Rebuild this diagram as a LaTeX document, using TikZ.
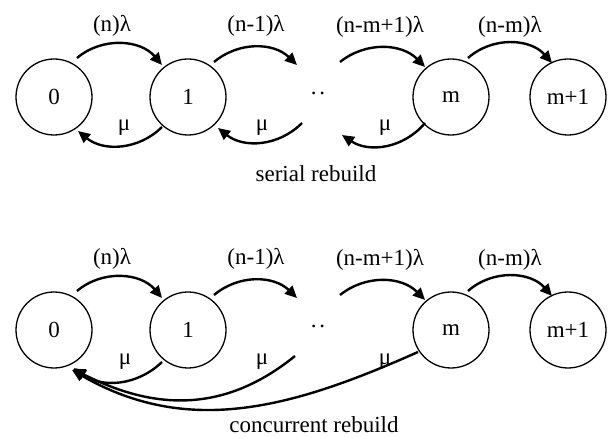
\documentclass[tikz,border=0pt]{standalone}
\usepackage{fontspec}
\setmainfont{Liberation Serif}
\usetikzlibrary{arrows.meta,calc}
\begin{document}
\begin{tikzpicture}[x=1pt,y=1pt,
  st/.style={circle,draw,line width=1.3pt,minimum size=76pt,inner sep=0pt},
  arr/.style={line width=2.4pt,-{Triangle[length=12pt,width=11pt]}},
  lbl/.style={anchor=base,inner sep=0pt},
  every node/.style={font=\fontsize{23}{27}\selectfont}]
\useasboundingbox (0,0) rectangle (611,437);
% top row
\node[st] (a0) at (54,340) {0};
\node[st] (a1) at (188,340) {1};
\node[st] (am) at (451,340) {m};
\node[st] (am1) at (568,340) {m+1};
\node[inner sep=0pt] (adots) at (318,344) {.\kern3pt.};
\draw[arr] ($(a0)+(23,39)$) to[bend left=45] ($(a1)+(-26,32)$);
\draw[arr] ($(a1)+(-26,-30)$) to[bend left=42] ($(a0)+(24,-34)$);
\draw[arr] ($(a1)+(26,35)$) to[bend left=42] ($(adots)+(-21,28)$);
\draw[arr] ($(adots)+(-16,-30)$) to[bend left=42] ($(a1)+(30,-31)$);
\draw[arr] ($(adots)+(22,31)$) to[bend left=42] ($(am)+(-26,30)$);
\draw[arr] ($(am)+(-26,-26)$) to[bend left=42] ($(adots)+(24,-42)$);
\draw[arr] ($(am)+(17,39)$) to[bend left=45] ($(am1)+(-16,34)$);
\node[lbl] (la1) at (112,405) {(n)λ};
\node[lbl] (la3) at (256,405) {(n-1)λ};
\node[lbl] (la5) at (380,404) {(n-m+1)λ};
\node[lbl] (la7) at (510,404) {(n-m)λ};
\node[lbl] (la2) at (124,306) {μ};
\node[lbl] (la4) at (262,306) {μ};
\node[lbl] (la6) at (385,306) {μ};
\node[lbl] (cap1) at (316,255) {serial rebuild};
% bottom row
\node[st] (b0) at (54,107) {0};
\node[st] (b1) at (188,107) {1};
\node[st] (bm) at (451,107) {m};
\node[st] (bm1) at (568,107) {m+1};
\node[inner sep=0pt] (bdots) at (318,111) {.\kern3pt.};
\draw[arr] ($(b0)+(23,39)$) to[bend left=45] ($(b1)+(-26,32)$);
\draw[arr] ($(b1)+(26,35)$) to[bend left=42] ($(bdots)+(-21,28)$);
\draw[arr] ($(bdots)+(22,31)$) to[bend left=42] ($(bm)+(-26,30)$);
\draw[arr] ($(bm)+(17,39)$) to[bend left=45] ($(bm1)+(-16,34)$);
\draw[arr] ($(b1)+(-26,-32)$) to[bend left=40] ($(b0)+(20,-38)$);
\draw[arr] ($(bdots)+(-23,-30)$) to[out=219,in=-27,looseness=1.05] ($(b0)+(19,-39)$);
\draw[arr] ($(bm)+(-33,-22)$) to[out=204,in=-30] ($(b0)+(18,-40)$);
\node[lbl] (lb1) at (112,172) {(n)λ};
\node[lbl] (lb3) at (256,172) {(n-1)λ};
\node[lbl] (lb5) at (380,171) {(n-m+1)λ};
\node[lbl] (lb7) at (510,171) {(n-m)λ};
\node[lbl] (lb2) at (125,73) {μ};
\node[lbl] (lb4) at (262,73) {μ};
\node[lbl] (lb6) at (385,73) {μ};
\node[lbl] (cap2) at (314,5) {concurrent rebuild};
\end{tikzpicture}
\end{document}
